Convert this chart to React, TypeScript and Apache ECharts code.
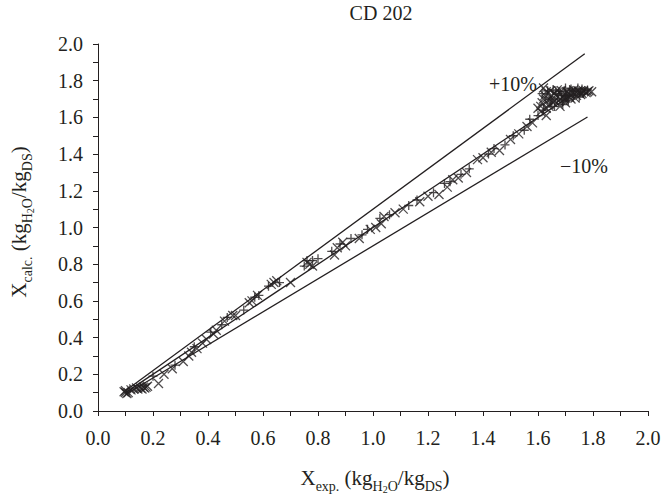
import React, { useEffect, useRef } from "react";
import * as echarts from "echarts";

// ---- data ----

// "×" markers: X_exp, X_calc
const crossExp = [
  0.10, 0.10, 0.11, 0.095, 0.105, 0.12, 0.13, 0.14, 0.145, 0.155, 0.16, 0.165, 0.17, 0.175, 0.18,
  0.22, 0.24, 0.27, 0.31, 0.33, 0.34, 0.36, 0.38, 0.395, 0.42, 0.43, 0.46, 0.49, 0.50,
  0.55, 0.56, 0.58, 0.63, 0.64, 0.65, 0.70, 0.76, 0.77, 0.78, 0.86, 0.87, 0.89, 0.90, 0.95, 0.99, 1.01,
  1.03, 1.04, 1.08, 1.11, 1.17, 1.20, 1.24, 1.27, 1.29, 1.31, 1.34, 1.38, 1.40, 1.43, 1.46, 1.50,
  1.53, 1.56, 1.58, 1.60, 1.61, 1.63, 1.62, 1.63, 1.64, 1.65, 1.66, 1.67, 1.68, 1.69, 1.70, 1.71, 1.72,
  1.73, 1.74, 1.75, 1.76, 1.78, 1.795, 1.61, 1.62, 1.615, 1.625, 1.635, 1.645, 1.655, 1.665, 1.675,
  1.685, 1.695, 1.705, 1.715, 1.725, 1.735, 1.745, 1.755, 1.765, 1.775, 1.785, 1.64, 1.66, 1.68,
  1.70, 1.72, 1.74, 1.63,
];
const crossCalc = [
  0.10, 0.11, 0.10, 0.105, 0.095, 0.115, 0.12, 0.125, 0.12, 0.125, 0.12, 0.13, 0.125, 0.13, 0.135,
  0.15, 0.20, 0.23, 0.27, 0.30, 0.32, 0.34, 0.37, 0.39, 0.42, 0.44, 0.49, 0.52, 0.52,
  0.59, 0.60, 0.63, 0.69, 0.70, 0.71, 0.70, 0.81, 0.80, 0.79, 0.85, 0.89, 0.92, 0.90, 0.94, 0.99, 1.00,
  1.02, 1.06, 1.08, 1.10, 1.14, 1.17, 1.18, 1.22, 1.26, 1.27, 1.30, 1.37, 1.38, 1.41, 1.42, 1.48,
  1.51, 1.55, 1.57, 1.65, 1.63, 1.65, 1.70, 1.74, 1.67, 1.72, 1.69, 1.75, 1.66, 1.71, 1.68, 1.73, 1.70,
  1.75, 1.72, 1.74, 1.73, 1.74, 1.74, 1.66, 1.76, 1.68, 1.72, 1.69, 1.745, 1.68, 1.72, 1.69,
  1.745, 1.70, 1.74, 1.71, 1.735, 1.705, 1.745, 1.725, 1.745, 1.735, 1.745, 1.66, 1.73, 1.70,
  1.705, 1.72, 1.735, 1.61,
];

// "+" markers: X_exp, X_calc
const plusExp = [
  0.20, 0.28, 0.35, 0.41, 0.45, 0.47, 0.53, 0.57, 0.585, 0.62, 0.66, 0.75, 0.76, 0.78, 0.80, 0.85,
  0.88, 0.92, 0.96, 0.98, 1.025, 1.06, 1.13, 1.16, 1.22, 1.26, 1.28, 1.32, 1.35, 1.42, 1.44, 1.48,
  1.51, 1.55, 1.57, 1.60, 1.62, 1.64, 1.655, 1.67, 1.68, 1.69, 1.70, 1.71, 1.72, 1.73, 1.745, 1.76,
  1.77, 1.66, 1.70, 1.75, 1.615, 1.635, 1.65, 1.665, 1.685, 1.695, 1.705, 1.715, 1.735, 1.755,
  1.765, 1.78, 1.645, 1.675, 1.69, 1.725,
];
const plusCalc = [
  0.19, 0.25, 0.35, 0.43, 0.47, 0.51, 0.55, 0.62, 0.63, 0.68, 0.70, 0.79, 0.82, 0.82, 0.83, 0.87,
  0.91, 0.94, 0.96, 0.99, 1.05, 1.07, 1.12, 1.15, 1.19, 1.24, 1.25, 1.29, 1.32, 1.40, 1.43, 1.45,
  1.50, 1.53, 1.59, 1.61, 1.64, 1.71, 1.75, 1.70, 1.74, 1.67, 1.76, 1.69, 1.755, 1.72, 1.76, 1.755,
  1.745, 1.66, 1.72, 1.71, 1.73, 1.745, 1.69, 1.745, 1.72, 1.745, 1.715, 1.75, 1.745, 1.74,
  1.73, 1.75, 1.70, 1.73, 1.69, 1.745,
];

// reference lines (x, y end points)
const plusTenLine = [[0.1, 0.11], [1.77, 1.947]];
const minusTenLine = [[0.1, 0.09], [1.78, 1.602]];
const parityLine = [[0.1, 0.1], [1.72, 1.72]];

const INK = "#231f20";
const FONT = "'Liberation Serif', 'Times New Roman', serif";

export default function App() {
  const ref = useRef<HTMLDivElement>(null);
  useEffect(() => {
    if (!ref.current) return;
    const chart = echarts.init(ref.current, null, { renderer: "svg" });
    const zip = (a: number[], b: number[]) => a.map((v, i) => [v, b[i]]);
    const lineSeries = (data: number[][]) => ({
      type: "line",
      data,
      symbol: "none",
      silent: true,
      lineStyle: { color: INK, width: 1.3 },
      z: 1,
    });
    const axisCommon = {
      type: "value",
      min: 0,
      max: 2,
      interval: 0.2,
      splitLine: { show: false },
      axisLine: { show: true, lineStyle: { color: INK, width: 1 } },
      axisTick: { show: true, inside: false, length: 5, lineStyle: { color: INK, width: 1 } },
      minorTick: { show: true, splitNumber: 2, length: 5, lineStyle: { color: INK, width: 1 } },
      minorSplitLine: { show: false },
    };
    const rich = {
      m: { fontSize: 21, fontFamily: FONT, color: INK, verticalAlign: "top", padding: [0, 0, 0, 0] },
      s: { fontSize: 14, fontFamily: FONT, color: INK, verticalAlign: "top", padding: [12, 0, 0, 0] },
      ss: { fontSize: 10, fontFamily: FONT, color: INK, verticalAlign: "top", padding: [17, 0, 0, 0] },
    };
    const centered = { textAlign: "center", textVerticalAlign: "middle", align: "center", verticalAlign: "middle" };
    chart.setOption({
      animation: false,
      grid: { left: 98, right: 19, top: 44, bottom: 85, containLabel: false },
      xAxis: {
        ...axisCommon,
        axisLabel: { formatter: (v: number) => v.toFixed(1), fontSize: 20, fontFamily: FONT, color: INK, margin: 17 },
      },
      yAxis: {
        ...axisCommon,
        axisLabel: { formatter: (v: number) => v.toFixed(1), fontSize: 20, fontFamily: FONT, color: INK, margin: 15 },
      },
      series: [
        lineSeries(plusTenLine),
        lineSeries(minusTenLine),
        lineSeries(parityLine),
        {
          type: "scatter",
          data: zip(crossExp, crossCalc),
          symbol: "path://M0,0L10,10M10,0L0,10",
          symbolSize: 9,
          silent: true,
          itemStyle: { color: "rgba(0,0,0,0)", borderColor: INK, borderWidth: 1.3 },
          z: 3,
        },
        {
          type: "scatter",
          data: zip(plusExp, plusCalc),
          symbol: "path://M5,0L5,10M0,5L10,5",
          symbolSize: 9,
          silent: true,
          itemStyle: { color: "rgba(0,0,0,0)", borderColor: INK, borderWidth: 1.3 },
          z: 3,
        },
      ],
      graphic: [
        {
          type: "text",
          x: 381,
          y: 13,
          style: { text: "CD 202", fontSize: 20, fontFamily: FONT, fill: INK, ...centered },
        },
        {
          type: "text",
          x: 513,
          y: 84,
          style: { text: "+10%", fontSize: 20, fontFamily: FONT, fill: INK, ...centered },
        },
        {
          type: "text",
          x: 584,
          y: 166,
          style: { text: "\u221210%", fontSize: 20, fontFamily: FONT, fill: INK, ...centered },
        },
        {
          type: "text",
          x: 375,
          y: 481,
          style: {
            text: "{m|X}{s|exp.}{m| (kg}{s|H}{ss|2}{s|O}{m|/kg}{s|DS}{m|)}",
            rich,
            fill: INK,
            ...centered,
          },
        },
        {
          type: "text",
          x: 22,
          y: 222,
          rotation: Math.PI / 2,
          style: {
            text: "{m|X}{s|calc.}{m| (kg}{s|H}{ss|2}{s|O}{m|/kg}{s|DS}{m|)}",
            rich,
            fill: INK,
            ...centered,
          },
        },
      ],
    });
    return () => chart.dispose();
  }, []);
  return <div ref={ref} style={{ width: 667, height: 496, position: "absolute", left: 0, top: 0 }} />;
}
